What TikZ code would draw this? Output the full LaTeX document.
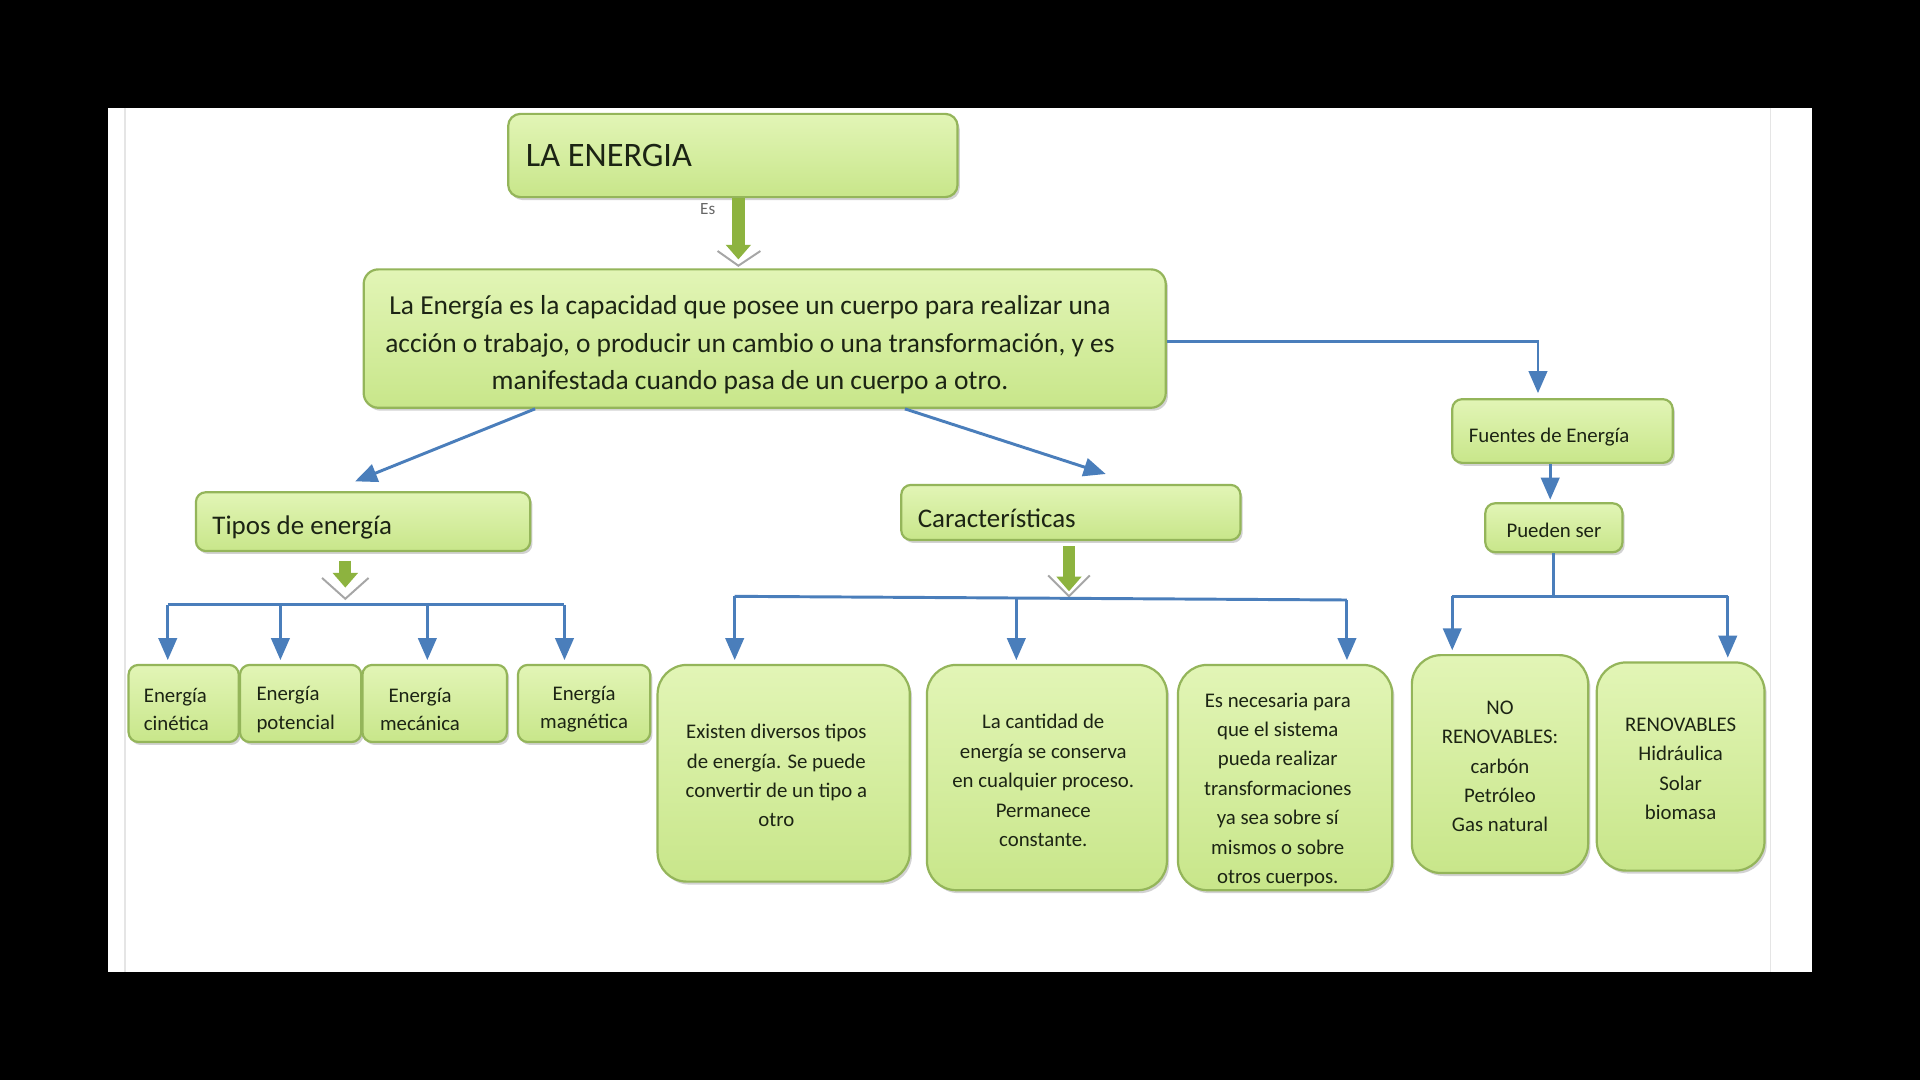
\documentclass[tikz,border=0pt]{standalone}
\usepackage{fontspec}
\setmainfont{Carlito}
\usetikzlibrary{arrows.meta,shadows}
\definecolor{gtop}{HTML}{E2F5B6}
\definecolor{gbot}{HTML}{C8E68A}
\definecolor{gborder}{HTML}{94B55A}
\definecolor{conn}{HTML}{4A7EBB}
\definecolor{garr}{HTML}{8DB33F}
\definecolor{txt}{HTML}{1C2414}
\begin{document}
\begin{tikzpicture}[x=0.5pt,y=-0.5pt,
  box/.style={draw=gborder, line width=0.9pt, top color=gtop, bottom color=gbot,
    rounded corners=4pt, drop shadow={shadow xshift=0.9pt,shadow yshift=-1.2pt,opacity=0.35},
    inner sep=0pt},
  lbl/.style={text=txt, inner sep=0pt},
  leaf/.style={box, rounded corners=12pt},
  leaftxt/.style={lbl, align=center, font=\fontsize{8.5}{12}\selectfont},
  smalltxt/.style={lbl, font=\fontsize{8.5}{11.5}\selectfont},
  bline/.style={draw=conn, line width=1.2pt},
  barrow/.style={bline, -{Triangle[width=7.5pt,length=9pt]}},
  garrow/.style={draw=garr, line width=5pt, -{Triangle[width=10pt,length=6pt]}},
  chev/.style={draw=black!35, line width=0.8pt, line join=miter}
]
\useasboundingbox (0,0) rectangle (1568,882);
\fill[black] (0,0) rectangle (1568,882);
\fill[white] (88,88) rectangle (1480,794);
\draw[black!10, line width=0.6pt] (102,88) -- (102,794);
\draw[black!10, line width=0.6pt] (1446,88) -- (1446,794);

% ---- boxes
\node[box, rounded corners=5pt, minimum width=183.5pt, minimum height=34pt] (top) at (598.5,127) {};
\node[box, rounded corners=6pt, minimum width=327.5pt, minimum height=56.5pt] (def) at (624.5,276.5) {};
\node[box, minimum width=90pt, minimum height=26pt] (fuentes) at (1276,352) {};
\node[box, minimum width=56pt, minimum height=20pt] (pueden) at (1269,431) {};
\node[leaf, minimum width=72pt, minimum height=89pt] (norenov) at (1225,624) {};
\node[leaf, minimum width=68.5pt, minimum height=85pt] (renov) at (1372.5,626) {};
\node[box, minimum width=136.5pt, minimum height=24pt] (tipos) at (296.5,426) {};
\node[box, minimum width=138.5pt, minimum height=22.5pt] (caract) at (874.5,418.5) {};
\node[box, minimum width=45pt, minimum height=31.5pt] (cin) at (150,574.5) {};
\node[box, minimum width=49.5pt, minimum height=31.5pt] (pot) at (245.5,574.5) {};
\node[box, minimum width=59pt, minimum height=31.5pt] (mec) at (355,574.5) {};
\node[box, minimum width=54pt, minimum height=31.5pt] (mag) at (477,574.5) {};
\node[leaf, minimum width=103pt, minimum height=88.5pt] (ex) at (640,631.5) {};
\node[leaf, minimum width=98pt, minimum height=92pt] (cant) at (855,635) {};
\node[leaf, minimum width=87.5pt, minimum height=92pt] (nec) at (1049.5,635) {};

% ---- texts
\node[lbl, anchor=west, font=\fontsize{14}{16}\selectfont] (topT) at ([xshift=7.5pt]top.west) {LA ENERGIA};
\node[lbl, align=center, font=\fontsize{11.2}{15.5}\selectfont] (defT) at ([xshift=-6pt,yshift=-2.5pt]def.center)
  {La Energía es la capacidad que posee un cuerpo para realizar una\\
   acción o trabajo, o producir un cambio o una transformación, y es\\
   manifestada cuando pasa de un cuerpo a otro.};
\node[lbl, text=black!60, font=\fontsize{7}{8}\selectfont] (es) at (578,171) {Es};
\node[smalltxt, anchor=west] (fuentesT) at ([xshift=7pt,yshift=-2.5pt]fuentes.west) {Fuentes de Energía};
\node[smalltxt] (puedenT) at ([yshift=-1pt]pueden.center) {Pueden ser};
\node[leaftxt] (norenovT) at ([yshift=-1pt]norenov.center) {NO\\RENOVABLES:\\carbón\\Petróleo\\Gas natural};
\node[leaftxt] (renovT) at ([yshift=-1pt]renov.center) {RENOVABLES\\Hidráulica\\Solar\\biomasa};
\node[lbl, anchor=west, font=\fontsize{11}{13}\selectfont] (tiposT) at ([xshift=7pt,yshift=-2.5pt]tipos.west) {Tipos de energía};
\node[lbl, anchor=west, font=\fontsize{11}{13}\selectfont] (caractT) at ([xshift=7pt,yshift=-2.5pt]caract.west) {Características};
\node[smalltxt, align=left, anchor=west] (cinT) at ([xshift=6.5pt,yshift=-2.5pt]cin.west) {Energía\\cinética};
\node[smalltxt, align=left, anchor=west] (potT) at ([xshift=7pt,yshift=-2.5pt]pot.west) {Energía\\potencial};
\node[smalltxt, align=center] (mecT) at ([xshift=-6pt,yshift=-2.5pt]mec.center) {Energía\\mecánica};
\node[smalltxt, align=center] (magT) at ([yshift=-2.5pt]mag.center) {Energía\\magnética};
\node[leaftxt] (exT) at ([xshift=-3pt,yshift=-1pt]ex.center) {Existen diversos tipos\\de energía. Se puede\\convertir de un tipo a\\otro};
\node[leaftxt] (cantT) at ([xshift=-1.5pt,yshift=-1.2pt]cant.center) {La cantidad de\\energía se conserva\\en cualquier proceso.\\Permanece\\constante.};
\node[leaftxt] (necT) at ([xshift=-3pt,yshift=-5pt]nec.center) {Es necesaria para\\que el sistema\\pueda realizar\\transformaciones\\ya sea sobre sí\\mismos o sobre\\otros cuerpos.};

% ---- green block arrows with chevrons
\draw[garrow] ([xshift=2.25pt]top.south) -- ++(0,50);
\draw[chev] (586,205) -- (603,217) -- (621,205);
\draw[garrow] ([xshift=-7.25pt,yshift=-3.5pt]tipos.south) -- ++(0,22);
\draw[chev] (263,472) -- (282,489) -- (301,472);
\draw[garrow] ([xshift=-0.75pt,yshift=-2pt]caract.south) -- ++(0,37);
\draw[chev] (856,470) -- (873,487) -- (890,470);

% ---- blue connectors
\draw[barrow] ([xshift=-93.75pt]def.south) -- ([xshift=-3.25pt,yshift=4pt]tipos.north);
\draw[barrow] ([xshift=57.25pt]def.south) -- ([xshift=14.25pt,yshift=4pt]caract.north);
\draw[barrow] ([yshift=-1.25pt]def.east) -| ([xshift=-10pt,yshift=2pt]fuentes.north);
\draw[barrow] ([xshift=-5pt]fuentes.south) -- ([xshift=-1.5pt,yshift=1pt]pueden.north);

\coordinate (t1) at (137,494);
\coordinate (t2) at (229,494);
\coordinate (t3) at (349,494);
\coordinate (t4) at (461,494);
\draw[bline] (t1) -- (t4);
\foreach \t/\n in {t1/cin,t2/pot,t3/mec,t4/mag}
  \draw[barrow, shorten >=1.5pt] (\t) -- (\t |- \n.north);

\coordinate (c1) at (600,487);
\coordinate (c2) at (830,488);
\coordinate (c3) at (1100,490);
\draw[bline] (c1) -- (c3);
\foreach \t/\n in {c1/ex,c2/cant,c3/nec}
  \draw[barrow, shorten >=1.5pt] (\t) -- (\t |- \n.north);

\coordinate (f0) at (1269,487);
\coordinate (f1) at (1186,487);
\coordinate (f2) at (1411,487);
\draw[bline] (pueden.south) -- (f0);
\draw[bline] (f1) -- (f2);
\draw[barrow, shorten >=1.5pt] (f1) -- (f1 |- norenov.north);
\draw[barrow, shorten >=1.5pt] (f2) -- (f2 |- renov.north);
\end{tikzpicture}
\end{document}
